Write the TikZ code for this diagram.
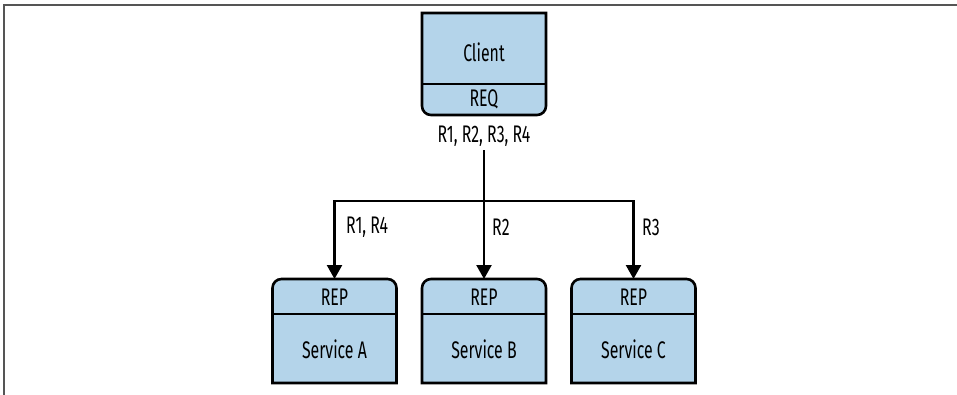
\documentclass[tikz,border=0pt]{standalone}
\usepackage{fontspec}
\setmainfont{Fira Sans}[FakeStretch=0.66]
\usetikzlibrary{arrows.meta}
\definecolor{boxblue}{HTML}{B4D4EA}
\definecolor{framegray}{HTML}{555555}
\begin{document}
\begin{tikzpicture}[x=1pt,y=-1pt,
  anchorbox/.style={rectangle,inner sep=0,outer sep=0,minimum width=124pt},
  boxline/.style={draw=black,line width=2.6pt,fill=boxblue},
  divline/.style={draw=black,line width=2.2pt},
  txt/.style={font=\fontsize{24}{26}\selectfont,inner sep=0},
  arr/.style={draw=black,line width=2.4pt,-{Triangle[width=15pt,length=14pt]}},
  conn/.style={draw=black,line width=2.4pt}]
\useasboundingbox (0,0) rectangle (957,395);
% frame
\draw[framegray,line width=2pt] (4,395) -- (4,5) -- (957,5);
% nodes (outline anchors)
\node[anchorbox,minimum height=102pt] (client) at (484,64) {};
\node[anchorbox,minimum height=104pt] (sa) at (334.5,331) {};
\node[anchorbox,minimum height=104pt] (sb) at (484,331) {};
\node[anchorbox,minimum height=104pt] (sc) at (633.5,331) {};
% client shape: bottom corners rounded
\path[boxline] (client.east) [rounded corners=9pt] -- (client.south east) -- (client.south west)
  -- (client.west) [sharp corners] -- (client.north west) -- (client.north east) -- cycle;
\draw[divline] ([yshift=31pt]client.south west) -- ([yshift=31pt]client.south east);
% service shapes: top corners rounded
\foreach \s in {sa,sb,sc}{
  \path[boxline] (\s.east) [rounded corners=9pt] -- (\s.north east) -- (\s.north west)
    -- (\s.west) [sharp corners] -- (\s.south west) -- (\s.south east) -- cycle;
  \draw[divline] ([yshift=-35pt]\s.north west) -- ([yshift=-35pt]\s.north east);
}
% texts
\node[txt] (tclient) at (484,52) {Client};
\node[txt] (treq) at (484,99) {REQ};
\node[txt] (lbl) at (484,136) {R1, R2, R3, R4};
\node[txt] (repa) at (334.5,297) {REP};
\node[txt] (repb) at (484,297) {REP};
\node[txt] (repc) at (633.5,297) {REP};
\node[txt] (tsa) at (334.5,349) {Service A};
\node[txt] (tsb) at (484,349) {Service B};
\node[txt] (tsc) at (633.5,349) {Service C};
% connectors
\coordinate (j) at (484,201);
\draw[conn] ([yshift=-4pt]lbl.south) -- (j);
\draw[arr] (j) -| (sa.north);
\draw[arr] (j) -- (sb.north);
\draw[arr] (j) -| (sc.north);
% connector labels
\node[txt,anchor=west] (la) at (346,227) {R1, R4};
\node[txt,anchor=west] (lb) at (492,227) {R2};
\node[txt,anchor=west] (lc) at (642,227) {R3};
\end{tikzpicture}
\end{document}
